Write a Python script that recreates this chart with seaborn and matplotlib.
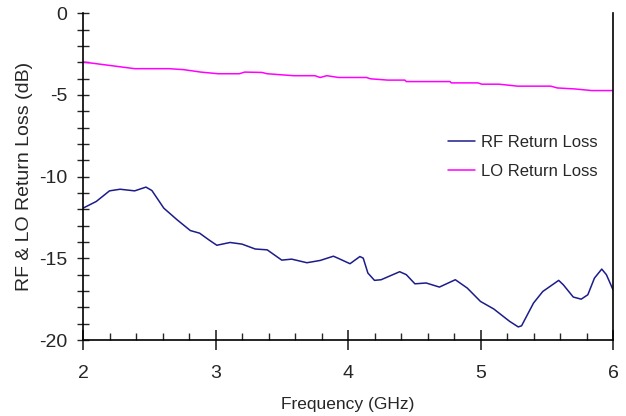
import matplotlib
matplotlib.use("Agg")
import matplotlib.pyplot as plt
from matplotlib.ticker import MultipleLocator
import seaborn as sns
import pandas as pd

rf_freq = [2.00, 2.10, 2.20, 2.28, 2.39, 2.475, 2.52, 2.61, 2.71, 2.81, 2.88, 2.95,
           3.01, 3.11, 3.20, 3.30, 3.39, 3.50, 3.575, 3.69, 3.79, 3.89, 3.94, 4.015,
           4.09, 4.115, 4.15, 4.20, 4.25, 4.39, 4.44, 4.505, 4.59, 4.69, 4.81, 4.90,
           5.00, 5.10, 5.22, 5.285, 5.31, 5.40, 5.47, 5.59, 5.625, 5.70, 5.76, 5.81,
           5.86, 5.915, 5.95, 6.00]
rf_loss = [-11.93, -11.52, -10.87, -10.77, -10.87, -10.64, -10.85, -11.93, -12.64, -13.30,
           -13.46, -13.87, -14.20, -14.03, -14.13, -14.43, -14.48, -15.11, -15.05, -15.27,
           -15.13, -14.87, -15.05, -15.33, -14.89, -14.99, -15.90, -16.35, -16.31, -15.82,
           -16.00, -16.56, -16.51, -16.76, -16.31, -16.82, -17.64, -18.10, -18.86, -19.20,
           -19.13, -17.74, -17.03, -16.35, -16.62, -17.37, -17.50, -17.23, -16.21, -15.66,
           -16.00, -16.92]

lo_freq = [2.00, 2.39, 2.65, 2.76, 2.89, 3.02, 3.18, 3.22, 3.35, 3.39, 3.59, 3.75, 3.79,
           3.84, 3.93, 4.14, 4.17, 4.30, 4.43, 4.44, 4.77, 4.78, 4.98, 5.01, 5.14, 5.28,
           5.53, 5.58, 5.71, 5.84, 6.00]
lo_loss = [-2.98, -3.39, -3.39, -3.45, -3.60, -3.70, -3.70, -3.60, -3.62, -3.70, -3.82,
           -3.82, -3.93, -3.82, -3.93, -3.93, -4.01, -4.09, -4.09, -4.18, -4.18, -4.26,
           -4.26, -4.34, -4.34, -4.46, -4.46, -4.57, -4.63, -4.73, -4.73]

series_names = ["RF Return Loss", "LO Return Loss"]
series_colors = ["#1c1c8a", "#ff00ff"]

df = pd.concat([
    pd.DataFrame({"Frequency": rf_freq, "Loss": rf_loss, "Series": series_names[0]}),
    pd.DataFrame({"Frequency": lo_freq, "Loss": lo_loss, "Series": series_names[1]}),
])

sns.set_style("ticks")
plt.rcParams["font.family"] = ["Liberation Sans", "DejaVu Sans"]
plt.rcParams["axes.unicode_minus"] = False

fig = plt.figure(figsize=(6.26, 4.16), dpi=100)
ax = fig.add_axes([83 / 626, 1 - 340 / 416, 530 / 626, (340 - 13.3) / 416])

sns.lineplot(data=df, x="Frequency", y="Loss", hue="Series", hue_order=series_names,
             palette=series_colors, linewidth=1.1, ax=ax, sort=False, estimator=None)

ax.set_xlim(2, 6)
ax.set_ylim(-20, 0)
ax.xaxis.set_major_locator(MultipleLocator(1))
ax.xaxis.set_minor_locator(MultipleLocator(0.2))
ax.yaxis.set_major_locator(MultipleLocator(5))
ax.yaxis.set_minor_locator(MultipleLocator(1))

for s in ["left", "bottom", "right"]:
    ax.spines[s].set_visible(True)
    ax.spines[s].set_linewidth(1.2)
    ax.spines[s].set_color("black")
ax.spines["top"].set_visible(False)

ax.tick_params(axis="y", which="both", direction="inout", length=9, width=1, labelsize=14,
               pad=7, right=False)
ax.tick_params(axis="x", which="major", direction="inout", length=14, width=1.2,
               labelsize=14, pad=11, top=False)
ax.tick_params(axis="x", which="minor", direction="in", length=5, width=1, top=False)

ax.set_xlabel("Frequency (GHz)", fontsize=12.5, labelpad=11)
ax.set_ylabel("RF & LO Return Loss (dB)", fontsize=14, labelpad=4)

leg = ax.legend(loc="upper left", bbox_to_anchor=(0.689, 0.628), frameon=False,
                fontsize=12, handlelength=1.6, handletextpad=0.35, labelspacing=0.85,
                borderaxespad=0, borderpad=0)

fig.savefig("out.png", dpi=100)
